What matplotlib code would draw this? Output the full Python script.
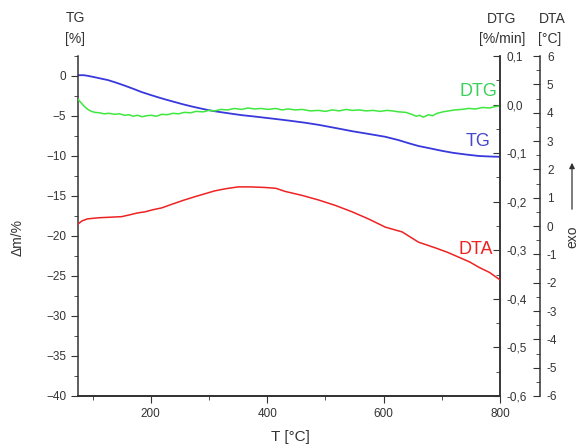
import matplotlib.pyplot as plt
from matplotlib.ticker import MultipleLocator, FuncFormatter

plt.rcParams['font.family'] = ['Liberation Sans', 'DejaVu Sans']

W, H = 578, 447

# TG curve, mass change in %
tg_T = [75, 85, 92, 100, 110, 118, 126, 140, 155, 170, 184, 198, 212, 226, 241,
        255, 270, 284, 298, 312, 328, 342, 357, 380, 400, 420, 440, 465, 488,
        516, 546, 575, 603, 625, 643, 660, 677, 700, 719, 742, 764, 785, 800]
tg_val = [0.1, 0.1, 0.02, -0.1, -0.25, -0.38, -0.5, -0.82, -1.2, -1.6, -2.0,
          -2.33, -2.65, -2.95, -3.25, -3.53, -3.8, -4.03, -4.25, -4.43, -4.6,
          -4.75, -4.9, -5.08, -5.25, -5.42, -5.6, -5.84, -6.1, -6.48, -6.9, -7.25,
          -7.6, -8.0, -8.4, -8.75, -9.0, -9.35, -9.6, -9.82, -10.0, -10.07, -10.1]

# DTG curve, %/min
dtg_T = [75, 80, 86, 92, 98, 104, 112, 120, 128, 138, 146, 155, 163, 170, 177,
         185, 193, 201, 210, 219, 228, 238, 248, 258, 268, 278, 290, 300, 310,
         320, 332, 344, 356, 367, 378, 390, 402, 414, 426, 436, 448, 460, 474,
         488, 500, 512, 524, 536, 546, 558, 570, 582, 594, 606, 615, 626, 638,
         648, 656, 662, 668, 677, 684, 692, 702, 712, 722, 734, 746, 758, 770,
         782, 792, 800]
dtg_val = [0.011, 0.004, -0.004, -0.010, -0.014, -0.016, -0.017, -0.019, -0.018,
           -0.020, -0.019, -0.022, -0.021, -0.024, -0.022, -0.025, -0.023, -0.022,
           -0.024, -0.020, -0.021, -0.018, -0.019, -0.016, -0.017, -0.014, -0.015,
           -0.012, -0.013, -0.010, -0.011, -0.008, -0.010, -0.007, -0.009, -0.008,
           -0.010, -0.008, -0.011, -0.009, -0.011, -0.010, -0.013, -0.012, -0.014,
           -0.011, -0.013, -0.010, -0.012, -0.011, -0.013, -0.012, -0.014, -0.012,
           -0.013, -0.015, -0.016, -0.020, -0.024, -0.022, -0.026, -0.021, -0.023,
           -0.018, -0.015, -0.013, -0.011, -0.010, -0.008, -0.009, -0.006, -0.007,
           -0.004, -0.003]

# DTA curve, °C
dta_T = [75, 82, 91, 110, 130, 150, 165, 177, 190, 205, 219, 238, 258, 280,
         310, 330, 350, 372, 396, 415, 431, 460, 488, 518, 546, 575, 603, 632,
         660, 690, 710, 729, 748, 764, 782, 800]
dta_val = [0.07, 0.18, 0.25, 0.29, 0.31, 0.33, 0.40, 0.46, 0.50, 0.58, 0.64,
           0.78, 0.92, 1.06, 1.24, 1.32, 1.38, 1.38, 1.36, 1.33, 1.22, 1.08,
           0.92, 0.72, 0.50, 0.24, -0.04, -0.21, -0.57, -0.78, -0.93, -1.10,
           -1.27, -1.46, -1.64, -1.90]

fig = plt.figure(figsize=(W / 100, H / 100), dpi=100)
ax = fig.add_axes([78 / W, 1 - 396 / H, 422 / W, 340 / H])
ax2 = ax.twinx()
ax3 = ax.twinx()

ax.plot(tg_T, tg_val, color='#3838dd', lw=1.3)
ax2.plot(dtg_T, dtg_val, color='#3ee83e', lw=1.1)
ax3.plot(dta_T, dta_val, color='#ee2222', lw=1.1)

ax.set_xlim(75, 800)
ax.set_ylim(-40, 2.5)
ax2.set_ylim(-0.6, 0.1)
ax3.set_ylim(-6, 6)

comma = FuncFormatter(lambda v, p: f"{v:.1f}".replace('.', ','))

ax.xaxis.set_major_locator(MultipleLocator(200))
ax.xaxis.set_minor_locator(MultipleLocator(100))
ax.yaxis.set_major_locator(MultipleLocator(5))
ax.yaxis.set_minor_locator(MultipleLocator(2.5))
ax2.yaxis.set_major_locator(MultipleLocator(0.1))
ax2.yaxis.set_minor_locator(MultipleLocator(0.05))
ax2.yaxis.set_major_formatter(comma)
ax3.yaxis.set_major_locator(MultipleLocator(1))
ax3.yaxis.set_minor_locator(MultipleLocator(0.5))
ax3.yaxis.set_major_formatter(FuncFormatter(lambda v, p: f"{v:.0f}"))

for a in (ax, ax2, ax3):
    a.spines['top'].set_visible(False)
    for s in a.spines.values():
        s.set_color('#333333')
        s.set_linewidth(1.1)
ax2.spines['left'].set_visible(False)
ax3.spines['left'].set_visible(False)
ax3.spines['right'].set_position(('outward', 28.8))

ax.tick_params(which='both', direction='out', labelsize=8.5, colors='#333333')
ax.tick_params(which='major', length=5)
ax.tick_params(which='minor', length=3)
for a in (ax2, ax3):
    a.tick_params(which='both', direction='in', labelsize=8.5, colors='#333333', pad=5)
    a.tick_params(which='major', length=5)
    a.tick_params(which='minor', length=3)

# axis headers
def ftext(x, y, s, **kw):
    fig.text(x / W, 1 - y / H, s, ha='center', va='center', **kw)

ftext(75, 18, 'TG', fontsize=10, color='#333333')
ftext(75, 39, '[%]', fontsize=10, color='#333333')
ftext(502, 19, 'DTG', fontsize=10, color='#333333')
ftext(502, 39, '[%/min]', fontsize=10, color='#333333')
ftext(552, 19, 'DTA', fontsize=10, color='#333333')
ftext(550, 39, '[°C]', fontsize=10, color='#333333')
ftext(18, 238, 'Δm/%', fontsize=10, color='#333333', rotation=90)
ftext(290, 437, 'T [°C]', fontsize=11, color='#333333')

# curve names
ftext(478, 92, 'DTG', fontsize=13, color='#3ad05a')
ftext(478, 142, 'TG', fontsize=13, color='#4848cc')
ftext(476, 250, 'DTA', fontsize=13, color='#ee2020')

# exo direction marker
ftext(572, 237, 'exo', fontsize=10, color='#333333', rotation=90)
fig.patches.append(plt.matplotlib.patches.FancyArrowPatch(
    (572 / W, 1 - 212 / H), (572 / W, 1 - 160 / H), transform=fig.transFigure,
    arrowstyle='-|>', mutation_scale=8, color='#333333', lw=0.9))

fig.savefig('out.png', dpi=100)
